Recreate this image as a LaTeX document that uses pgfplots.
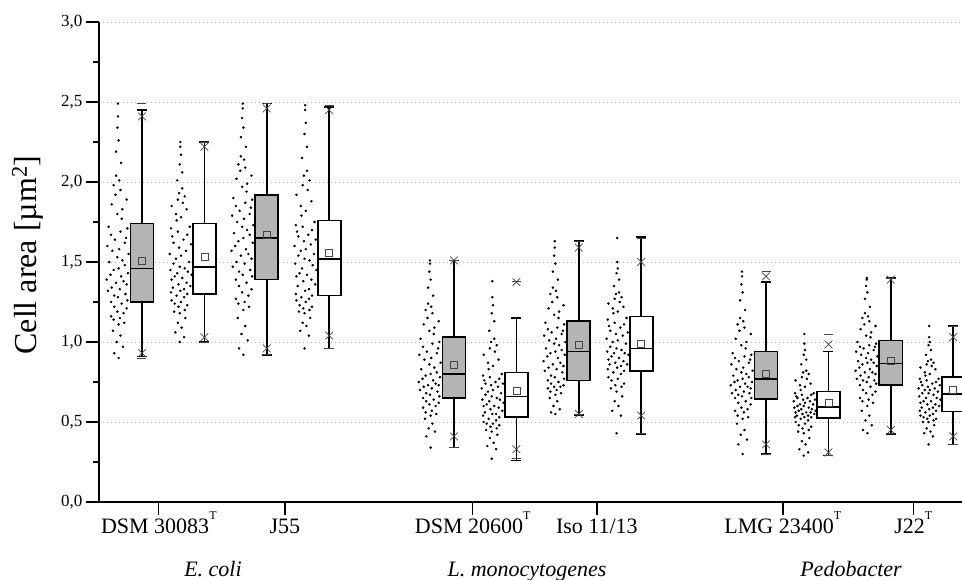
\documentclass[border=0pt]{standalone}
\usepackage{fontspec}
\setmainfont{Liberation Serif}
\usepackage{pgfplots}
\usepackage{pgfplotstable}
\pgfplotsset{compat=1.18}
\usepgfplotslibrary{statistics}
\definecolor{boxgray}{RGB}{180,180,180}
\definecolor{markgray}{RGB}{70,70,70}
\newcommand{\supT}{\raisebox{0.6em}[0pt][0pt]{\fontsize{12}{12}\selectfont T}}
\pgfplotstableread{
dx y1 y2 y3 y4 y5 y6 y7 y8 y9 y10 y11 y12
0.01 0.90 1.00 0.92 0.96 0.34 0.27 0.55 0.43 0.30 0.29 0.43 0.36
-0.06 0.93 1.03 0.96 1.04 0.41 0.33 0.56 0.54 0.36 0.31 0.45 0.41
0.08 0.97 1.06 1.01 1.07 0.44 0.35 0.58 0.57 0.39 0.33 0.48 0.43
-0.02 1.00 1.09 1.05 1.10 0.46 0.37 0.60 0.60 0.42 0.36 0.51 0.44
0.04 1.04 1.12 1.10 1.12 0.49 0.40 0.63 0.63 0.45 0.38 0.54 0.46
-0.08 1.07 1.15 1.15 1.15 0.52 0.42 0.65 0.66 0.49 0.40 0.57 0.48
0.01 1.11 1.18 1.20 1.18 0.54 0.44 0.67 0.69 0.52 0.43 0.60 0.50
0.10 1.12 1.19 1.22 1.19 0.55 0.45 0.68 0.71 0.53 0.44 0.62 0.50
-0.07 1.14 1.20 1.24 1.20 0.56 0.46 0.69 0.72 0.54 0.45 0.63 0.51
0.03 1.15 1.22 1.25 1.21 0.57 0.47 0.70 0.73 0.56 0.46 0.64 0.52
-0.11 1.16 1.23 1.27 1.22 0.59 0.48 0.71 0.74 0.57 0.47 0.65 0.52
0.09 1.18 1.24 1.29 1.23 0.60 0.49 0.72 0.76 0.58 0.48 0.67 0.53
-0.01 1.19 1.25 1.31 1.25 0.61 0.49 0.72 0.77 0.59 0.49 0.68 0.54
0.14 1.21 1.26 1.33 1.26 0.62 0.50 0.73 0.78 0.61 0.50 0.69 0.54
-0.06 1.22 1.28 1.35 1.27 0.63 0.51 0.74 0.80 0.62 0.51 0.70 0.55
0.06 1.24 1.29 1.37 1.28 0.64 0.52 0.75 0.81 0.63 0.52 0.72 0.56
-0.11 1.25 1.30 1.39 1.29 0.65 0.53 0.76 0.82 0.65 0.53 0.73 0.57
0.15 1.26 1.31 1.41 1.30 0.66 0.54 0.77 0.83 0.65 0.53 0.74 0.57
0.00 1.28 1.32 1.42 1.32 0.67 0.55 0.78 0.84 0.66 0.53 0.75 0.58
-0.06 1.29 1.33 1.44 1.33 0.68 0.55 0.79 0.85 0.67 0.54 0.76 0.59
0.12 1.30 1.34 1.45 1.35 0.69 0.56 0.81 0.86 0.68 0.54 0.76 0.59
-0.16 1.32 1.35 1.47 1.36 0.70 0.57 0.82 0.86 0.68 0.55 0.77 0.60
0.03 1.33 1.36 1.49 1.38 0.71 0.58 0.83 0.87 0.69 0.55 0.78 0.61
-0.10 1.34 1.37 1.50 1.39 0.72 0.59 0.84 0.88 0.70 0.56 0.79 0.61
0.14 1.36 1.39 1.52 1.41 0.73 0.60 0.85 0.89 0.71 0.56 0.80 0.62
-0.03 1.37 1.40 1.54 1.42 0.73 0.60 0.86 0.90 0.72 0.56 0.81 0.63
0.09 1.38 1.41 1.55 1.43 0.74 0.61 0.87 0.91 0.72 0.57 0.81 0.63
-0.18 1.39 1.42 1.57 1.45 0.75 0.62 0.88 0.92 0.73 0.57 0.82 0.64
0.05 1.41 1.43 1.58 1.46 0.76 0.63 0.90 0.93 0.74 0.58 0.83 0.65
-0.12 1.42 1.44 1.60 1.48 0.77 0.64 0.91 0.93 0.75 0.58 0.84 0.65
0.16 1.43 1.45 1.62 1.49 0.78 0.64 0.92 0.94 0.75 0.59 0.85 0.66
-0.07 1.45 1.46 1.63 1.51 0.79 0.65 0.93 0.95 0.76 0.59 0.86 0.67
0.01 1.46 1.47 1.65 1.52 0.80 0.66 0.94 0.96 0.77 0.60 0.87 0.68
0.11 1.48 1.49 1.67 1.54 0.81 0.67 0.95 0.97 0.78 0.60 0.87 0.68
-0.14 1.50 1.50 1.68 1.55 0.83 0.68 0.96 0.99 0.79 0.61 0.88 0.69
0.07 1.51 1.52 1.70 1.57 0.84 0.69 0.98 1.00 0.80 0.61 0.89 0.70
-0.01 1.53 1.54 1.72 1.58 0.86 0.70 0.99 1.01 0.81 0.62 0.90 0.70
0.17 1.55 1.55 1.73 1.60 0.87 0.71 1.00 1.02 0.82 0.63 0.91 0.71
-0.09 1.57 1.57 1.75 1.61 0.89 0.72 1.01 1.04 0.83 0.63 0.92 0.71
0.02 1.58 1.59 1.77 1.63 0.90 0.73 1.02 1.05 0.84 0.64 0.93 0.72
-0.17 1.60 1.61 1.79 1.64 0.92 0.74 1.04 1.06 0.86 0.64 0.94 0.73
0.11 1.62 1.62 1.80 1.66 0.93 0.74 1.05 1.07 0.87 0.65 0.95 0.73
-0.05 1.64 1.64 1.82 1.67 0.94 0.75 1.06 1.09 0.88 0.65 0.96 0.74
0.13 1.65 1.66 1.84 1.69 0.96 0.76 1.07 1.10 0.89 0.66 0.97 0.75
-0.11 1.67 1.67 1.85 1.70 0.97 0.77 1.08 1.11 0.90 0.67 0.97 0.75
0.04 1.69 1.69 1.87 1.72 0.99 0.78 1.09 1.12 0.91 0.67 0.98 0.76
0.15 1.71 1.71 1.89 1.73 1.00 0.79 1.11 1.14 0.92 0.68 0.99 0.77
-0.15 1.72 1.72 1.90 1.75 1.02 0.80 1.12 1.15 0.93 0.68 1.00 0.77
0.06 1.77 1.76 1.94 1.79 1.05 0.83 1.15 1.18 0.96 0.70 1.03 0.79
-0.01 1.80 1.78 1.97 1.82 1.07 0.85 1.17 1.19 0.98 0.72 1.04 0.80
0.07 1.83 1.80 1.99 1.85 1.09 0.87 1.19 1.21 1.00 0.73 1.06 0.81
-0.10 1.86 1.83 2.02 1.88 1.11 0.89 1.21 1.22 1.02 0.74 1.08 0.83
0.14 1.89 1.85 2.04 1.92 1.13 0.92 1.23 1.24 1.05 0.76 1.10 0.84
-0.04 1.92 1.87 2.07 1.95 1.15 0.94 1.25 1.25 1.07 0.77 1.11 0.85
0.04 1.95 1.89 2.09 1.98 1.18 0.96 1.28 1.27 1.09 0.78 1.13 0.86
-0.07 1.98 1.91 2.11 2.01 1.20 0.98 1.30 1.28 1.11 0.80 1.15 0.87
0.02 2.01 1.93 2.14 2.04 1.22 1.00 1.32 1.30 1.13 0.81 1.16 0.88
-0.03 2.04 1.96 2.16 2.07 1.24 1.02 1.34 1.31 1.15 0.82 1.18 0.89
0.05 2.12 2.01 2.22 2.15 1.29 1.07 1.39 1.35 1.20 0.86 1.22 0.92
-0.03 2.19 2.06 2.28 2.22 1.34 1.13 1.44 1.39 1.26 0.89 1.27 0.95
0.01 2.26 2.11 2.34 2.30 1.39 1.18 1.49 1.43 1.31 0.92 1.31 0.98
-0.01 2.34 2.17 2.40 2.37 1.44 1.23 1.54 1.46 1.36 0.95 1.35 1.00
0.00 2.41 2.22 2.46 2.45 1.49 1.28 1.59 1.50 1.41 0.99 1.39 1.03
0.00 2.49 2.25 2.49 2.48 1.51 1.38 1.63 1.65 1.44 1.05 1.40 1.10
}\cloud
\begin{document}
\begin{tikzpicture}
\begin{axis}[
  at={(0,0)}, anchor=south west,
  scale only axis, width=863pt, height=480pt,
  xmin=-0.689, xmax=13.141, ymin=0, ymax=3,
  axis lines=left,
  axis line style={-, line width=1.4pt},
  every tick/.style={black, line width=1.3pt},
  tick align=outside,
  major tick length=13pt, minor tick length=6pt,
  xtick={0.27,2.29,5.30,7.29,10.27,12.36},
  xticklabels={DSM 30083\supT, J55, DSM 20600\supT, Iso 11/13, LMG 23400\supT, J22\supT},
  xticklabel style={font=\fontsize{22}{24}\selectfont, text height=15.5pt, text depth=4pt, yshift=1pt},
  ytick={0,0.5,...,3},
  minor y tick num=1,
  yticklabel style={font=\fontsize{17}{18}\selectfont, /pgf/number format/.cd, fixed, fixed zerofill, precision=1, use comma},
  /pgf/number format/assume math mode=true,
  ymajorgrids,
  grid style={gray!55, line width=0.7pt, dash pattern=on 0.8pt off 3.2pt},
  clip=true,
  boxplot/draw direction=y,
  cloud/.style={only marks, mark=*, mark size=1.05pt, black, mark options={draw=black, fill=black}},
  boxg/.style={solid, draw=black, fill=boxgray, line width=1.7pt},
  boxw/.style={solid, draw=black, fill=white, line width=1.7pt},
]
% clouds
\addplot[cloud] table[x expr=\thisrow{dx}-0.385, y=y1]{\cloud};
\addplot[cloud] table[x expr=1-0.385-\thisrow{dx}, y=y2]{\cloud};
\addplot[cloud] table[x expr=2-0.385+\thisrow{dx}, y=y3]{\cloud};
\addplot[cloud] table[x expr=3-0.385-\thisrow{dx}, y=y4]{\cloud};
\addplot[cloud] table[x expr=5-0.385+\thisrow{dx}, y=y5]{\cloud};
\addplot[cloud] table[x expr=6-0.385-\thisrow{dx}, y=y6]{\cloud};
\addplot[cloud] table[x expr=7-0.385+\thisrow{dx}, y=y7]{\cloud};
\addplot[cloud] table[x expr=8-0.385-\thisrow{dx}, y=y8]{\cloud};
\addplot[cloud] table[x expr=10-0.385+\thisrow{dx}, y=y9]{\cloud};
\addplot[cloud] table[x expr=11-0.385-\thisrow{dx}, y=y10]{\cloud};
\addplot[cloud] table[x expr=12-0.385+\thisrow{dx}, y=y11]{\cloud};
\addplot[cloud] table[x expr=13-0.385-\thisrow{dx}, y=y12]{\cloud};
% boxes
\addplot[boxg, boxplot prepared={draw position=0, lower whisker=0.91, lower quartile=1.25, median=1.46, upper quartile=1.74, upper whisker=2.45, box extend=0.37, whisker extend=0.16}] coordinates {};
\addplot[boxw, boxplot prepared={draw position=1, lower whisker=1.00, lower quartile=1.30, median=1.47, upper quartile=1.74, upper whisker=2.25, box extend=0.37, whisker extend=0.16}] coordinates {};
\addplot[boxg, boxplot prepared={draw position=2, lower whisker=0.92, lower quartile=1.39, median=1.65, upper quartile=1.92, upper whisker=2.49, box extend=0.37, whisker extend=0.16}] coordinates {};
\addplot[boxw, boxplot prepared={draw position=3, lower whisker=0.96, lower quartile=1.29, median=1.52, upper quartile=1.76, upper whisker=2.47, box extend=0.37, whisker extend=0.16}] coordinates {};
\addplot[boxg, boxplot prepared={draw position=5, lower whisker=0.34, lower quartile=0.65, median=0.80, upper quartile=1.03, upper whisker=1.51, box extend=0.37, whisker extend=0.16}] coordinates {};
\addplot[boxw, boxplot prepared={draw position=6, lower whisker=0.26, lower quartile=0.53, median=0.66, upper quartile=0.81, upper whisker=1.15, box extend=0.37, whisker extend=0.16}] coordinates {};
\addplot[boxg, boxplot prepared={draw position=7, lower whisker=0.545, lower quartile=0.76, median=0.94, upper quartile=1.13, upper whisker=1.63, box extend=0.37, whisker extend=0.16}] coordinates {};
\addplot[boxw, boxplot prepared={draw position=8, lower whisker=0.425, lower quartile=0.82, median=0.96, upper quartile=1.16, upper whisker=1.655, box extend=0.37, whisker extend=0.16}] coordinates {};
\addplot[boxg, boxplot prepared={draw position=10, lower whisker=0.30, lower quartile=0.645, median=0.77, upper quartile=0.94, upper whisker=1.375, box extend=0.37, whisker extend=0.16}] coordinates {};
\addplot[boxw, boxplot prepared={draw position=11, lower whisker=0.29, lower quartile=0.525, median=0.595, upper quartile=0.69, upper whisker=0.94, box extend=0.37, whisker extend=0.16}] coordinates {};
\addplot[boxg, boxplot prepared={draw position=12, lower whisker=0.425, lower quartile=0.73, median=0.865, upper quartile=1.01, upper whisker=1.40, box extend=0.37, whisker extend=0.16}] coordinates {};
\addplot[boxw, boxplot prepared={draw position=13, lower whisker=0.36, lower quartile=0.565, median=0.675, upper quartile=0.78, upper whisker=1.10, box extend=0.37, whisker extend=0.16}] coordinates {};
% means
\addplot[only marks, mark=square, mark size=3.5pt, mark options={draw=markgray, line width=0.7pt, fill=none}] coordinates {
(0,1.51) (1,1.53) (2,1.67) (3,1.56) (5,0.855) (6,0.695) (7,0.98) (8,0.99) (10,0.80) (11,0.62) (12,0.88) (13,0.70)};
% 1% and 99%
\addplot[only marks, mark=x, mark size=5.5pt, mark options={draw=markgray, line width=0.7pt}] coordinates {
(0,0.93) (0,2.41) (1,1.03) (1,2.22) (2,0.96) (2,2.46) (3,1.04) (3,2.45)
(5,0.41) (5,1.51) (6,0.33) (6,1.375) (7,0.55) (7,1.59) (8,0.54) (8,1.50)
(10,0.36) (10,1.41) (11,0.31) (11,0.985) (12,0.45) (12,1.39) (13,0.41) (13,1.03)};
% min and max
\addplot[only marks, mark=-, mark size=4.5pt, mark options={draw=markgray, line width=0.8pt}] coordinates {
(0,0.90) (0,2.49) (1,1.00) (1,2.25) (2,0.92) (2,2.49) (3,0.96) (3,2.48)
(5,0.34) (5,1.51) (6,0.27) (6,1.38) (7,0.55) (7,1.63) (8,0.43) (8,1.65)
(10,0.30) (10,1.44) (11,0.29) (11,1.05) (12,0.43) (12,1.40) (13,0.36) (13,1.10)};
\end{axis}
\node[rotate=90, font=\fontsize{32}{34}\selectfont] at (-71.5pt,247pt) {Cell area [µm\textsuperscript{2}]};
\node[anchor=base, font=\fontsize{22}{24}\selectfont\itshape] at (114pt,-75pt) {E. coli};
\node[anchor=base, font=\fontsize{22}{24}\selectfont\itshape] at (428pt,-75pt) {L. monocytogenes};
\node[anchor=base, font=\fontsize{22}{24}\selectfont\itshape] at (752pt,-75pt) {Pedobacter};
\pgfresetboundingbox
\useasboundingbox (-99pt,-78pt) rectangle (863pt,502pt);
\end{tikzpicture}
\end{document}
